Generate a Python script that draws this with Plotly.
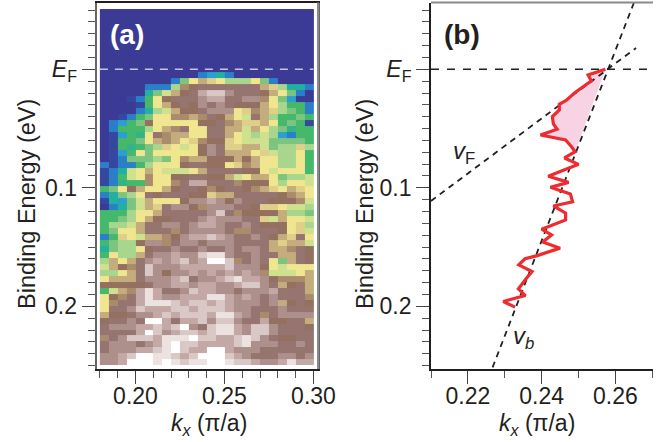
import numpy as np
import plotly.graph_objects as go

W, H = 660, 442

# Panel (a): intensity levels, rows from just below E_F to 0.25 eV, 24 momentum columns
heat_rows = [
 [0,0,0,0,0,0,0,0,0,0,0,1,1.5,2,1,0,0,0,0,0,0,0,0,0],
 [0,0,0,0,0,0,0,0,1,3.5,5,6,5.5,5,4,4,4,5,3.5,1,0,0,0,0],
 [0,0,0,0,0,1,1,1,4,6.5,7,7.5,7.5,7.5,7.5,7.5,7.5,7.5,6,5.5,4,2,2,1],
 [0,0,0,0,0,2,3.5,4.5,6,7,7.5,8.5,9,9,8,7.5,7.5,7.5,7,6,5,3.5,1,0],
 [0,0,0,0.5,1,3,5,7,7.5,7.5,7.5,8,8.5,8.5,7.5,7.5,8,8,6.5,5,3.5,1.5,0,0],
 [0,0,0,0,0.5,3,5,6,7,7.5,7,8,7.5,8,7.5,7,7,7,6,5,4,3,3,1],
 [0,0,0,0,1,2,4,4.5,6,7,7,7.5,8,8,8,5,5.5,6.5,6,5.5,4,3.5,3,1],
 [0,0,0.5,1,3,3.5,5,5,6.5,6.5,6,6.5,7.5,7,6,5,4.5,7.5,6,4,3,3,3.5,3],
 [0,1,1.5,3,3.5,7,5,5,5,5,5,7,7,7.5,6.5,6,5.5,5.5,6,5,3,3.5,3,0.5],
 [0,1,3,3,3,4,5,6,6.5,7.5,5,5,7.5,7.5,6,6,4.5,6,5,4,3.5,2.5,3,3],
 [0,0.5,1.5,3,2.5,5,7.5,6.5,6,6,5,5,7.5,7.5,6,5,4.5,4,4.5,4,1.5,1,3,3],
 [0,0.5,3,3,3.5,5,6,6.5,6,5,5.5,6.5,7,7,5.5,5,4.5,4.5,4.5,3.5,3.5,3.5,3.5,3],
 [0,0.5,3,2.5,3,3.5,4,5.5,5,4.5,5,7,8,7.5,5.5,5.5,6,6,4.5,3.5,4,4,5.5,4],
 [0,0.5,1.5,3,5,3.5,5,5,5,5,5,7,8,7.5,6,6,6,5,5.5,4.5,4,4,5,3],
 [0,0.5,1,3.5,3.5,3.5,4,3.5,5,6.5,6,6,7,7,7,6,7,6,5,5,4,4,5,3],
 [1,0.5,1,1,3,4,5,5,5,7,7.5,7.5,7,7,5,5.5,6.5,6,5,5,4,4,5,3],
 [0.5,1,2,4.5,5,6,5,4.5,4.5,4.5,5,6,7.5,7.5,7.5,7.5,7,7,5,4.5,5,5,5,3],
 [0.5,1,3,4.5,5,6.5,5,5,7,7,7.5,7.5,7,7,6,4.5,5,6,6,5,3.5,4,4,4.5],
 [0.5,1,2.5,3,3,6.5,5,5,6.5,7.5,8.5,8.5,7.5,7.5,7.5,6.5,7,7,7,5,4,5,5,4.5],
 [3,3.5,5,7,6,5,5,6,7,7.5,7.5,7,6.5,7,7.5,7.5,7,6.5,6,5.5,5,6,5.5,5],
 [1,2,3.5,4,5,7.5,7,7.5,7.5,7.5,7,7,5.5,6,6,7.5,7.5,7.5,7.5,7.5,7,6.5,6,5],
 [0.5,2,1.5,3.5,4.5,6,5,5,5,7,8,8,8.5,8,7,8,7.5,7.5,7.5,7,7,7,6.5,4.5],
 [0,1,2,3.5,4.5,6,5.5,7.5,8,8,7,6.5,8,8,8,7.5,7.5,7,5.5,5.5,5,4.5,4.5,4],
 [3,3,3,4,5,5,6,7.5,7.5,7.5,7.5,7.5,8,9,7.5,6.5,7,7,7,7,6,4,4,3.5],
 [3,3,3.5,4,5,6,7,7,7.5,7.5,7.5,8,8.5,8,8,8,7.5,7.5,5.5,4.5,6,5,5,4.5],
 [3,4,4,4.5,6,7.5,7.5,8,8,7.5,8,8.5,8.5,8,7.5,7.5,8,7.5,7,7,7,5,5.5,4],
 [3,3.5,5,5,6,7.5,7.5,7.5,6.5,7.5,8,8,8,8,7.5,6.5,6.5,7.5,7.5,7.5,7,5,5.5,4.5],
 [1,3,5.5,5,4.5,6,6,6.5,7,8,8.5,8.5,9,8.5,8,7.5,7.5,8,7.5,7,6,5.5,7.5,5],
 [3,3.5,4,4,7,8,8,6.5,7.5,8,8,7.5,8,8,8,7.5,7.5,7.5,7.5,6,5.5,6,6,4.5],
 [2,3.5,4,4,5,7,7.5,7.5,8,7.5,7.5,8,7.5,7.5,8,7.5,8,8,7.5,6,6,6.5,7.5,7],
 [3,5,4,4,6,7.5,8,8,8.5,8,8,9,9.5,9.5,8,7.5,7.5,8,7.5,7.5,6,6,7.5,7],
 [4,6,5,6,7.5,8,8.5,8,8.5,9,8,8.5,10,10,9,6.5,7.5,8,7.5,5,3.5,6,7.5,7],
 [4.5,6,7,6.5,7.5,9,8,8,8,8.5,8.5,8.5,8.5,8.5,9,8,8,8,7,5,4.5,5,5,5],
 [4,4,5,6,7.5,9,8,7,8,8,8.5,8,8.5,8,8.5,8,8.5,8,6.5,4.5,4.5,4.5,5,6],
 [5,6,6,6,7.5,8,8,8,8.5,9,7.5,8,8,8.5,9,9.5,8.5,8.5,8,7,6.5,6.5,6.5,6],
 [7,7,7,7,7,7.5,8,8,8.5,8.5,8,8.5,8.5,8,8,8.5,9,9,8,7.5,6,7,7.5,6],
 [3,4.5,6,6.5,8.5,9.5,8.5,7.5,7.5,8,9,8.5,8.5,8,8,7.5,8,8,8,8.5,7.5,7.5,7.5,6],
 [5,7,6.5,7.5,8.5,9.5,8.5,8,8,8.5,8.5,8.5,9.5,9.5,8.5,8,8.5,8,7.5,8,7.5,7.5,7.5,6.5],
 [5,6.5,7.5,7.5,8.5,9.5,9.5,9.5,9,8.5,9,9,8.5,9,8.5,8,8,8,7.5,8,6,7,7.5,7],
 [5,7.5,7.5,8,9,8.5,8.5,8.5,9,9,8.5,9,9,9,8.5,8,8,7.5,7.5,7.5,8,7.5,7.5,7.5],
 [6,7,7,7.5,8,8,8.5,9,8.5,9,9,9,8.5,9.5,9.5,8.5,8,7.5,6.5,7.5,8,8,8,8],
 [7,7.5,7.5,8,7.5,10,10,8.5,7.5,8.5,8.5,9,8,9,9,8,7.5,7.5,8.5,7,7,7.5,7.5,6],
 [7.5,8,8,8,8.5,8.5,9,8.5,9,10,8,7.5,9,9.5,9.5,8.5,8,9,9,8,7.5,7.5,7.5,7],
 [7.5,7.5,7.5,7.5,8.5,10,9,8,8.5,9,9,8.5,9,9.5,9.5,8.5,8,9,9,8,7.5,7.5,7.5,7.5],
 [6.5,7.5,8,9,9,9,8.5,9.5,9.5,9.5,10,9,9,8.5,8.5,9,9.5,9,8,7.5,7,7,7.5,7.5],
 [7.5,8,8,8,7.5,8,8.5,9.5,10,9,9,8.5,8.5,8.5,8.5,9,9.5,8,8,8,7.5,7.5,8,7.5],
 [7.5,8,8,8,8.5,8.5,9,9.5,10,9,8.5,8.5,10,10,8.5,8,8,8,7.5,7.5,7.5,7.5,7.5,7.5],
 [8,8,8.5,9,10,10,9.5,9.5,9,8.5,9,10,10,10,9,8.5,8,7.5,7.5,7.5,8,8,7.5,8],
 [8,8,8.5,10,10,10,9.5,10,9.5,9,9.5,9.5,10,10,9.5,9,9,8.5,8,8,8.5,9.5,8.5,8.5],
]
blue_row = [0] * 24

# Panel (b): extracted peak position
peak_k = [.2573,.2526,.2535,.2519,.2490,.2468,.2448,.2448,.2429,.2432,.2442,.2397,.2465,.2481,.2491,
          .2462,.2500,.2418,.2473,.2424,.2478,.2484,.2432,.2465,.2465,.2400,.2427,.2403,.2450,.2386,
          .2355,.2338,.2374,.2361,.2337,.2356,.2296,.2328]
peak_E = [0,.0048,.0098,.0132,.0197,.0259,.0295,.0343,.0399,.0461,.0506,.0554,.0596,.0653,.0695,
          .0748,.0802,.0903,.0954,.0996,.1052,.1117,.1153,.1214,.1271,.1349,.1397,.1458,.1509,.1574,
          .1599,.1650,.1706,.1754,.1852,.1909,.1959,.2007]
n_fill = 15
vF_k, vF_E = [.2100, .2656], [.1111, -.0180]
vb_k, vb_E = [.2267, .2650], [.2515, -.0560]

scale = [
 (0.00,"#3b3b96"),(0.05,"#36479f"),(0.10,"#2b7fc8"),(0.15,"#2a9fd0"),(0.20,"#22b0a0"),
 (0.30,"#45b86c"),(0.35,"#7cc47f"),(0.40,"#a8d68c"),(0.45,"#cfe08f"),(0.50,"#f0e68f"),
 (0.55,"#e0cf8a"),(0.60,"#c4ac7c"),(0.65,"#aa8c6c"),(0.70,"#93705f"),(0.75,"#96746f"),
 (0.80,"#ad8f8c"),(0.85,"#c3a8a6"),(0.90,"#dac8c6"),(0.95,"#ece2e0"),(1.00,"#ffffff"),
]
INK = "#231f20"
FONT = "Liberation Sans"

def px(x): return x / W
def py(y): return 1 - y / H

y_edges = [-0.0509] + [0.002 + 0.00506 * i for i in range(len(heat_rows) + 1)]

fig = go.Figure()
fig.add_trace(go.Heatmap(z=[blue_row] + heat_rows, x0=0.1825, dx=0.005, y=y_edges,
                         colorscale=scale, zmin=0, zmax=10, showscale=False, hoverinfo="skip",
                         xaxis="x", yaxis="y"))
fig.add_trace(go.Scatter(x=[0.18, 0.30], y=[0, 0], mode="lines", xaxis="x", yaxis="y",
                         line=dict(color="#c4c4dc", width=1.5, dash="8px,7px")))

fig.add_trace(go.Scatter(x=peak_k[:n_fill], y=peak_E[:n_fill], mode="none", fill="toself",
                         fillcolor="#f8d3e4", xaxis="x2", yaxis="y2"))
fig.add_trace(go.Scatter(x=[.21, .27], y=[0, 0], mode="lines", xaxis="x2", yaxis="y2",
                         line=dict(color=INK, width=1.5, dash="8px,8px")))
fig.add_trace(go.Scatter(x=vF_k, y=vF_E, mode="lines", xaxis="x2", yaxis="y2",
                         line=dict(color=INK, width=1.8, dash="6px,5px")))
fig.add_trace(go.Scatter(x=vb_k, y=vb_E, mode="lines", xaxis="x2", yaxis="y2",
                         line=dict(color=INK, width=1.8, dash="6px,5px")))
fig.add_trace(go.Scatter(x=peak_k, y=peak_E, mode="lines", xaxis="x2", yaxis="y2",
                         line=dict(color="#ee2b2e", width=3.2, simplify=False)))

y_major = [-0.05, 0, 0.05, 0.1, 0.15, 0.2, 0.25]
y_text = ["", "<i>E</i><sub>F</sub>", "", "0.1", "", "0.2", ""]
y_minor = [round(-0.05 + 0.01 * i, 2) for i in range(31)]

def y_axis(domain, rng, anchor, mirror, lc):
    return dict(domain=domain, range=rng, anchor=anchor, tickmode="array", tickvals=y_major, ticktext=y_text,
                ticks="outside", ticklen=13, tickwidth=1.2, tickcolor="#444",
                tickfont=dict(family=FONT, size=23, color=INK), automargin=False,
                minor=dict(tickmode="array", tickvals=y_minor, ticks="outside", ticklen=7, tickwidth=1.2, tickcolor="#555"),
                showgrid=False, zeroline=False, showline=True, linecolor=lc, linewidth=1.8, mirror=mirror)

def x_axis(domain, rng, anchor, mirror, major, text, minor):
    return dict(domain=domain, range=rng, anchor=anchor, tickmode="array", tickvals=major, ticktext=text,
                ticks="outside", ticklen=13, tickwidth=1.2, tickcolor="#444",
                tickfont=dict(family=FONT, size=23, color=INK), automargin=False,
                ticklabelstandoff=-7,
                minor=dict(tickmode="array", tickvals=minor, ticks="outside", ticklen=7, tickwidth=1.2, tickcolor="#555"),
                showgrid=False, zeroline=False, showline=True, linecolor=INK, linewidth=1.5, mirror=mirror)

def note(text, x, y, size, color=INK, angle=0):
    return dict(text=text, xref="paper", yref="paper", x=px(x), y=py(y), xanchor="center", yanchor="middle",
                showarrow=False, textangle=angle, font=dict(family=FONT, size=size, color=color))

fig.update_layout(
    width=W, height=H, margin=dict(l=0, r=0, t=0, b=0), paper_bgcolor="white", plot_bgcolor="white",
    showlegend=False,
    xaxis=x_axis([px(96.5), px(317.5)], [0.1781, 0.30225], "y", True,
                 [0.20, 0.25, 0.30], ["0.20", "0.25", "0.30"],
                 [round(0.18 + 0.01 * i, 2) for i in range(13)]),
    yaxis=y_axis([py(369), py(2.5)], [0.2529, -0.0564], "x", True, "#666"),
    xaxis2=x_axis([px(431), px(653)], [0.21, 0.2702], "y2", False,
                  [0.22, 0.24, 0.26], ["0.22", "0.24", "0.26"],
                  [round(0.21 + 0.01 * i, 2) for i in range(7)]),
    yaxis2=y_axis([py(369), py(2.5)], [0.2529, -0.0564], "x2", False, INK),
    annotations=[
        note("<b>(a)</b>", 127, 35, 28, "white"),
        note("<b>(b)</b>", 462, 35, 28),
        note("<i>v</i><sub>F</sub>", 464, 152, 24),
        note("<i>v<sub>b</sub></i>", 523, 337, 24),
        note("Binding Energy (eV)", 27, 204, 23.5, angle=-90),
        note("Binding Energy (eV)", 365, 204, 23.5, angle=-90),
        note("<i>k<sub>x</sub></i> (π/a)", 209, 424, 23),
        note("<i>k<sub>x</sub></i> (π/a)", 537, 424, 23),
    ],
    shapes=[dict(type="line", xref="paper", yref="paper", x0=px(318), x1=px(318), y0=py(369), y1=py(2.5),
                 line=dict(color="#8a8a8a", width=2)),
            dict(type="line", xref="paper", yref="paper", x0=px(431), x1=px(653), y0=py(2.5), y1=py(2.5),
                 line=dict(color="#8a8a8a", width=2))],
)
fig.write_html("out.html", post_script="document.body.style.margin='0';", config={"displayModeBar": False})
